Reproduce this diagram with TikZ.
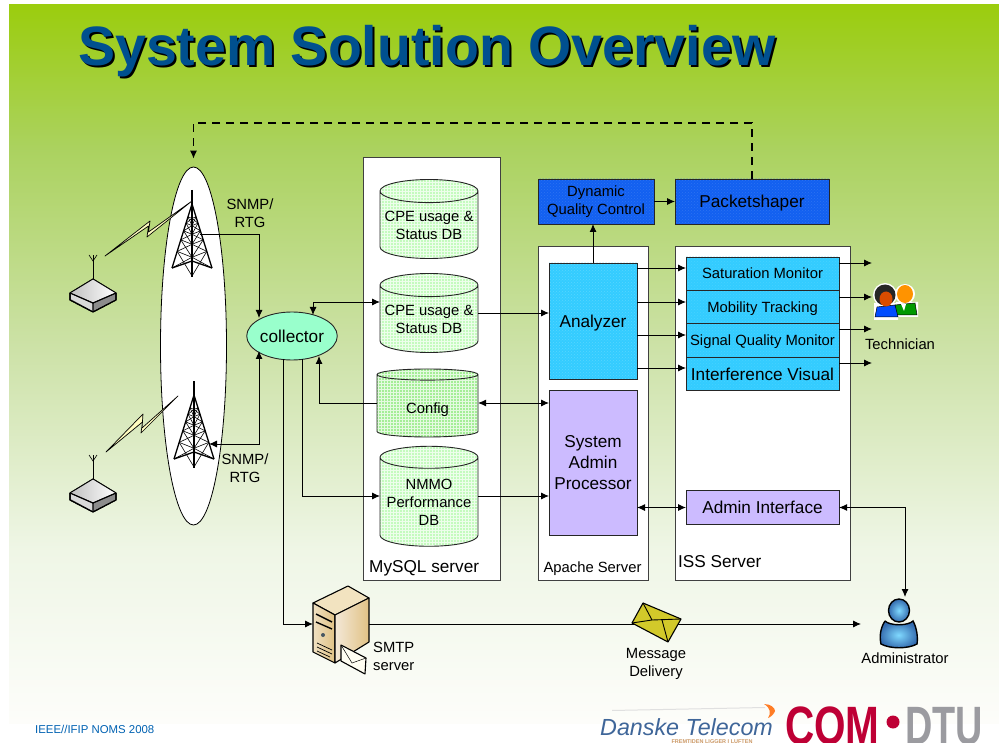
\documentclass[tikz,border=0pt]{standalone}
\usepackage{fontspec}
\setmainfont{Liberation Sans}
\usepackage{xcolor}
\definecolor{title-blue}{HTML}{00508F}
\definecolor{pale-db}{HTML}{C4FBBE}
\definecolor{mid-db}{HTML}{A4EE96}
\definecolor{strong-blue}{HTML}{1260F0}
\definecolor{sky-blue}{HTML}{33CCFF}
\definecolor{pale-violet}{HTML}{CCBBFF}
\definecolor{pale-mint}{HTML}{99FFCC}
\definecolor{com-red}{HTML}{BE0035}
\definecolor{dtu-grey}{HTML}{9B9BA0}
\definecolor{bg-top}{HTML}{9BCD0E}
\definecolor{bg-two}{HTML}{ABD25F}
\definecolor{bg-three}{HTML}{CDE2A8}
\definecolor{bg-four}{HTML}{EFF6E6}
\definecolor{bg-end}{HTML}{FDFDFA}
\usepackage{tikz}
\usetikzlibrary{arrows.meta}
\usetikzlibrary{patterns}
\usetikzlibrary{shapes.geometric}
\pgfdeclareverticalshading{slidebg}{100bp}{
  color(0bp)=(bg-end); color(25bp)=(bg-end);
  color(37bp)=(bg-four);
  color(51bp)=(bg-three);
  color(65bp)=(bg-two);
  color(75bp)=(bg-top); color(100bp)=(bg-top)}
\tikzset{small/.style = {font=\fontsize{14.8}{18}\selectfont, align=center}}
\tikzset{big/.style = {font=\fontsize{17.2}{21}\selectfont, align=center}}
\tikzset{server/.style = {draw=black!75, fill=white, line width=.9pt, inner sep=0, outer sep=0}}
\tikzset{db/.style = {draw=black!85, line width=.9pt, cylinder, shape border rotate=90, shape aspect=.26, inner sep=0, outer sep=0,
  minimum width=98, small}}
\tikzset{dbfill/.style = {preaction={fill=#1}, preaction={pattern=grid, pattern color=white!70!#1}}}
\tikzset{dotted fill/.style 2 args = {preaction={fill=#1}, preaction={pattern=crosshatch dots, pattern color=#2}}}
\tikzset{panel/.style = {draw=black!85, line width=.9pt, inner sep=0, outer sep=0}}
\tikzset{block/.style = {panel, minimum width=153, minimum height=33.4}}
\tikzset{arr/.style = {line width=.9pt, ->}}
\tikzset{icon/.style = {draw=black, line width=1.1pt, line join=round}}
\tikzset{radiotower/.pic = {
  \draw[line width=1.1pt] (0,0) -- (0,87);
  \draw[line width=2.4pt] (0,14) -- (0,30);
  \draw[line width=1.3pt] (-20,78) -- (0,14) -- (20,78);
  \foreach \f/\g in {.2/.3,.3/.42,.42/.56,.56/.74,.74/1}{
    \draw[line width=.6pt] ({-\f*20},{14+\f*64}) -- (0,{14+\f*72}) -- ({\f*20},{14+\f*64});
    \draw[line width=.6pt] ({-\f*20},{14+\f*64}) -- (0,{14+\g*72}) -- ({\f*20},{14+\f*64});
    \draw[line width=.6pt] ({-\g*20},{14+\g*64}) -- (0,{14+\f*72}) -- ({\g*20},{14+\g*64});
  }
  \draw[line width=1.3pt] (-20,78) -- (0,71) -- (20,78);
}}
\tikzset{cperouter/.pic = {
  \draw[icon, line width=.9pt] (0,0) -- (0,-24);
  \draw[line width=.6pt] (-4,-24) -- (0,-18) -- (4,-24);
  \draw[icon, fill=black!45] (-23,14) -- (0,0) -- (23,14) -- (23,21) -- (0,33) -- (-23,21) -- cycle;
  \draw[icon, left color=black!25, right color=white, line width=.8pt] (-23,14) -- (0,0) -- (23,14) -- (0,24) -- cycle;
  \fill[white!85!black] (-22,15) -- (0,25) -- (0,32) -- (-22,20) -- cycle;
  \draw[icon] (-23,14) -- (0,24) -- (23,14) (0,24) -- (0,33);
  \draw[icon] (-23,14) -- (-23,21) -- (0,33) -- (23,21) -- (23,14);
}}
\tikzset{bolt/.style = {draw=black, line width=.7pt, fill=yellow!25, line join=round}}
\begin{document}
\begin{tikzpicture}[x=1pt, y=-1pt, >={Latex[length=8pt,width=7pt]}]
\useasboundingbox (0,0) rectangle (999,743);
\fill[white] (0,0) rectangle (999,743);
\shade[shading=slidebg] (9,5) rectangle (999,723);

\node[anchor=base west, font=\fontsize{55.5}{60}\bfseries\selectfont, text=black, inner sep=0] (titleshade) at (80,67.5) {System Solution Overview};
\node[anchor=base west, font=\fontsize{55.5}{60}\bfseries\selectfont, text=title-blue, inner sep=0] (title) at (78,65.5) {System Solution Overview};

% left side, towers and clients
\node[draw, fill=white, ellipse, line width=.8pt, inner sep=0, minimum width=66, minimum height=358] (bubble) at (193.5,346) {};
\pic at (192,190) {radiotower};
\pic at (194,381) {radiotower};
\pic at (93,279) {cperouter};
\pic at (93,479) {cperouter};
\draw[bolt] (105,256) -- (150,221) -- (148.5,232) -- (192,201) -- (147,237) -- (148.5,226) -- cycle;
\draw[bolt] (106,452) -- (143,414) -- (142,428) -- (178,396) -- (141,433) -- (142.5,422) -- cycle;
\coordinate (tower1) at (200,234);
\coordinate (tower2) at (209,444);
\node[small] (snmp1) at (250,213) {SNMP/\\RTG};
\node[small] (snmp2) at (245,468) {SNMP/\\RTG};
\node[draw=black!85, fill=pale-mint, ellipse, line width=.9pt, big, inner sep=0, minimum width=88, minimum height=48] (collector) at (292,336) {collector};

% servers
\node[server, minimum width=137, minimum height=423] (mysql) at (431.5,368.5) {};
\node[server, minimum width=110, minimum height=334] (apache) at (593,413) {};
\node[server, minimum width=175, minimum height=334] (iss) at (762.5,413) {};
\node[anchor=west, inner sep=0, font=\fontsize{17.2}{21}\selectfont] (mysqltxt) at (369,568) {MySQL server};
\node[inner sep=0, small] (apachetxt) at (592.5,568.5) {Apache Server};
\node[anchor=west, inner sep=0, font=\fontsize{17.2}{21}\selectfont] (isstxt) at (678,562) {ISS Server};

\node[db, dbfill=pale-db, minimum height=79] (dbstatus) at (429,225) {CPE usage \&\\Status DB};
\node[db, dbfill=pale-db, minimum height=79] (dbusage) at (429,319) {CPE usage \&\\Status DB};
\node[db, dbfill=mid-db, minimum height=68, minimum width=101, text height=18.5pt] (dbconfig) at (427.5,406) {Config};
\node[db, dbfill=pale-db, minimum height=100] (dbnmmo) at (429,502) {NMMO\\Performance\\DB};

\node[panel, minimum width=116, minimum height=45, dotted fill={strong-blue}{white!12!strong-blue}, small] (dqc) at (596,201.5) {Dynamic\\Quality Control};
\node[panel, minimum width=154, minimum height=45, dotted fill={strong-blue}{white!12!strong-blue}, big, text depth=0pt] (shaper) at (752,201.5) {Packetshaper};
\node[panel, minimum width=88, minimum height=116, dotted fill={sky-blue}{white!18!sky-blue}, big, text depth=0pt] (analyzer) at (593,321) {Analyzer};
\node[panel, minimum width=88, minimum height=145, fill=pale-violet, big] (sysadmin) at (593,462.5) {System\\Admin\\Processor};

\node[block, dotted fill={sky-blue}{white!10!sky-blue}, small] (satmon) at (762.5,273.7) {Saturation Monitor};
\node[block, dotted fill={sky-blue}{white!10!sky-blue}, small, text depth=0pt] (mobtrack) at (762.5,307.1) {Mobility Tracking};
\node[block, dotted fill={sky-blue}{white!10!sky-blue}, small, text depth=0pt] (sigmon) at (762.5,340.5) {Signal Quality Monitor};
\node[block, dotted fill={sky-blue}{white!10!sky-blue}, big] (intvis) at (762.5,373.9) {Interference Visual};
\node[block, fill=pale-violet, big] (adminif) at (762.5,507.5) {Admin Interface};

% right side, people
\begin{scope}[line width=.5pt]
  \fill[white] (905,294) circle (10) (885,295) circle (12);
  \fill[white] (874,303) rectangle (898,320) (896,302) rectangle (918,317);
  \draw[fill=green!60!black] (895,315) -- (895,305) -- (915,303) -- (917,315) -- cycle;
  \fill[white] (901,304) -- (906,304) -- (904,311) -- cycle;
  \fill[orange!85!yellow] (905,294) ellipse (8 and 9);
  \draw[fill=blue!70!cyan] (875,317) -- (877,307) -- (895,305) -- (898,317) -- cycle;
  \fill[black!85] (885,295) circle (10.5);
  \fill[orange!70!red!85!black] (886,299) ellipse (6.5 and 7.5);
\end{scope}
\node[small] (techtxt) at (900,344) {Technician};

\fill[draw=black, line width=1.4pt, inner color=blue!30!cyan!50!white, outer color=blue!55!cyan!60!black!80!white] (885,621) .. controls (879,630) and (880,640) .. (881,644) .. controls (890,649) and (908,649) .. (917,644) .. controls (918,638) and (917,628) .. (913,621) .. controls (908,626) and (890,626) .. (885,621);
\fill[draw=black, line width=1.4pt, inner color=blue!30!cyan!50!white, outer color=blue!55!cyan!60!black!80!white] (899,610.5) ellipse (10.5 and 11.5);
\coordinate (adminnorth) at (905,597);
\coordinate (adminwest) at (861,624);
\node[small] (admintxt) at (905,658) {Administrator};

% smtp server
\draw[icon, fill=yellow!25!brown!30!white] (313,603) -- (348,586) -- (369,598) -- (335,615) -- cycle;
\draw[icon, left color=yellow!20!brown!30!white, right color=yellow!20!brown!60!white] (313,603) -- (335,615) -- (335,663) -- (313,652) -- cycle;
\draw[icon, left color=yellow!10!brown!20!white, right color=yellow!20!brown!60!white] (335,615) -- (369,598) -- (369,642) -- (335,663) -- cycle;
\draw[line width=1.4pt] (316,614) -- (332,622) (316,622) -- (332,629);
\draw[line width=.7pt] (317,643) -- (332,650) (317,647) -- (332,654) (317,651) -- (330,657);
\fill[black!70!cyan] (323,635) circle (2);
\coordinate (smtpwest) at (313,624);
\coordinate (smtpeast) at (369,624);
\draw[icon, fill=yellow!5!white] (341,645) -- (366,658) -- (365,674) -- (341,661) -- cycle;
\draw[line width=.5pt] (341,645) -- (352,663) -- (366,658);
\node[small, anchor=west, align=left, inner sep=0] (smtptxt) at (373,656) {SMTP\\server};

% message on its way
\draw[arr] (smtpeast) -- (adminwest);
\draw[icon, fill=yellow!80!black] (643,603) -- (681,619) -- (668,642) -- (632,623) -- cycle;
\draw[line width=.9pt] (643,603) -- (652,620) -- (681,619) (652,620) -- (632,623) (662,620) -- (668,642);
\node[small] (msgtxt) at (656,664) {Message\\Delivery};

% connectors
\draw[arr, line width=1.1pt, dash pattern=on 8pt off 6pt, shorten >=8pt] (shaper.north) -- ++(0,-56) -| (bubble.north);
\draw[arr] (tower1) -| (259,318);
\draw[arr, <->] (tower2) -| (259,351);
\draw[arr, <->] (313,315) |- (dbusage.west |- 0,302);
\draw[arr] (dbconfig.west |- 0,403) -| (319,356);
\draw[arr] (302,359) |- (dbnmmo.west |- 0,496);
\draw[arr] (283,359) |- (smtpwest);
\draw[arr] (dbusage.east |- 0,313) -- (analyzer.west |- 0,313);
\draw[arr, <->] (dbconfig.east |- 0,403) -- (sysadmin.west |- 0,403);
\draw[arr] (dbnmmo.east |- 0,496) -- (sysadmin.west |- 0,496);
\draw[arr] (analyzer.north) -- (dqc.south -| analyzer.north);
\draw[arr] (dqc.east) -- (shaper.west);
\draw[arr, <->] (sysadmin.east |- adminif.west) -- (adminif.west);
\draw[arr, <->] (adminif.east) -| (adminnorth);
\draw[arr] (analyzer.east |- 0,268) -- (satmon.west |- 0,268);
\draw[arr] (analyzer.east |- 0,302) -- (mobtrack.west |- 0,302);
\draw[arr] (analyzer.east |- 0,335) -- (sigmon.west |- 0,335);
\draw[arr] (analyzer.east |- 0,368) -- (intvis.west |- 0,368);
\coordinate (techin) at (872,0);
\draw[arr] (satmon.east |- 0,263) -- (techin |- 0,263);
\draw[arr] (mobtrack.east |- 0,297) -- (techin |- 0,297);
\draw[arr] (sigmon.east |- 0,329) -- (techin |- 0,329);
\draw[arr] (intvis.east |- 0,363) -- (techin |- 0,363);

% footer
\node[anchor=west, inner sep=0, text=blue!45!cyan!70!black, font=\fontsize{11.4}{13}\selectfont] (confname) at (35,729) {IEEE//IFIP NOMS 2008};
\fill[black!12] (612,710) -- (765,707) -- (765,708) -- (612,711) -- cycle;
\fill[orange!80!red!85!white] (764,704) .. controls (771,704) and (775,708) .. (775,711) .. controls (774,714) and (771,717) .. (768,718) .. controls (771,714) and (771,708) .. (764,704) -- cycle;
\node[anchor=base west, inner sep=0, text=cyan!50!blue!70!black, font=\fontsize{23.3}{26}\itshape\selectfont] (danske) at (600,735) {Danske Telecom};
\node[anchor=base, inner sep=0, text=brown!80!white, font=\fontsize{5.5}{6}\bfseries\selectfont] (fremtid) at (712,743) {FREMTIDEN LIGGER I LUFTEN};
\node[anchor=base west, inner sep=0, text=com-red, xscale=.75, transform shape, font=\fontsize{54}{56}\bfseries\selectfont] (comtxt) at (785,744) {COM};
\fill[com-red] (893,722) circle (6.5);
\node[anchor=base west, inner sep=0, text=dtu-grey, xscale=.70, transform shape, font=\fontsize{54}{56}\bfseries\selectfont] (dtutxt) at (905,744) {DTU};
\end{tikzpicture}
\end{document}
